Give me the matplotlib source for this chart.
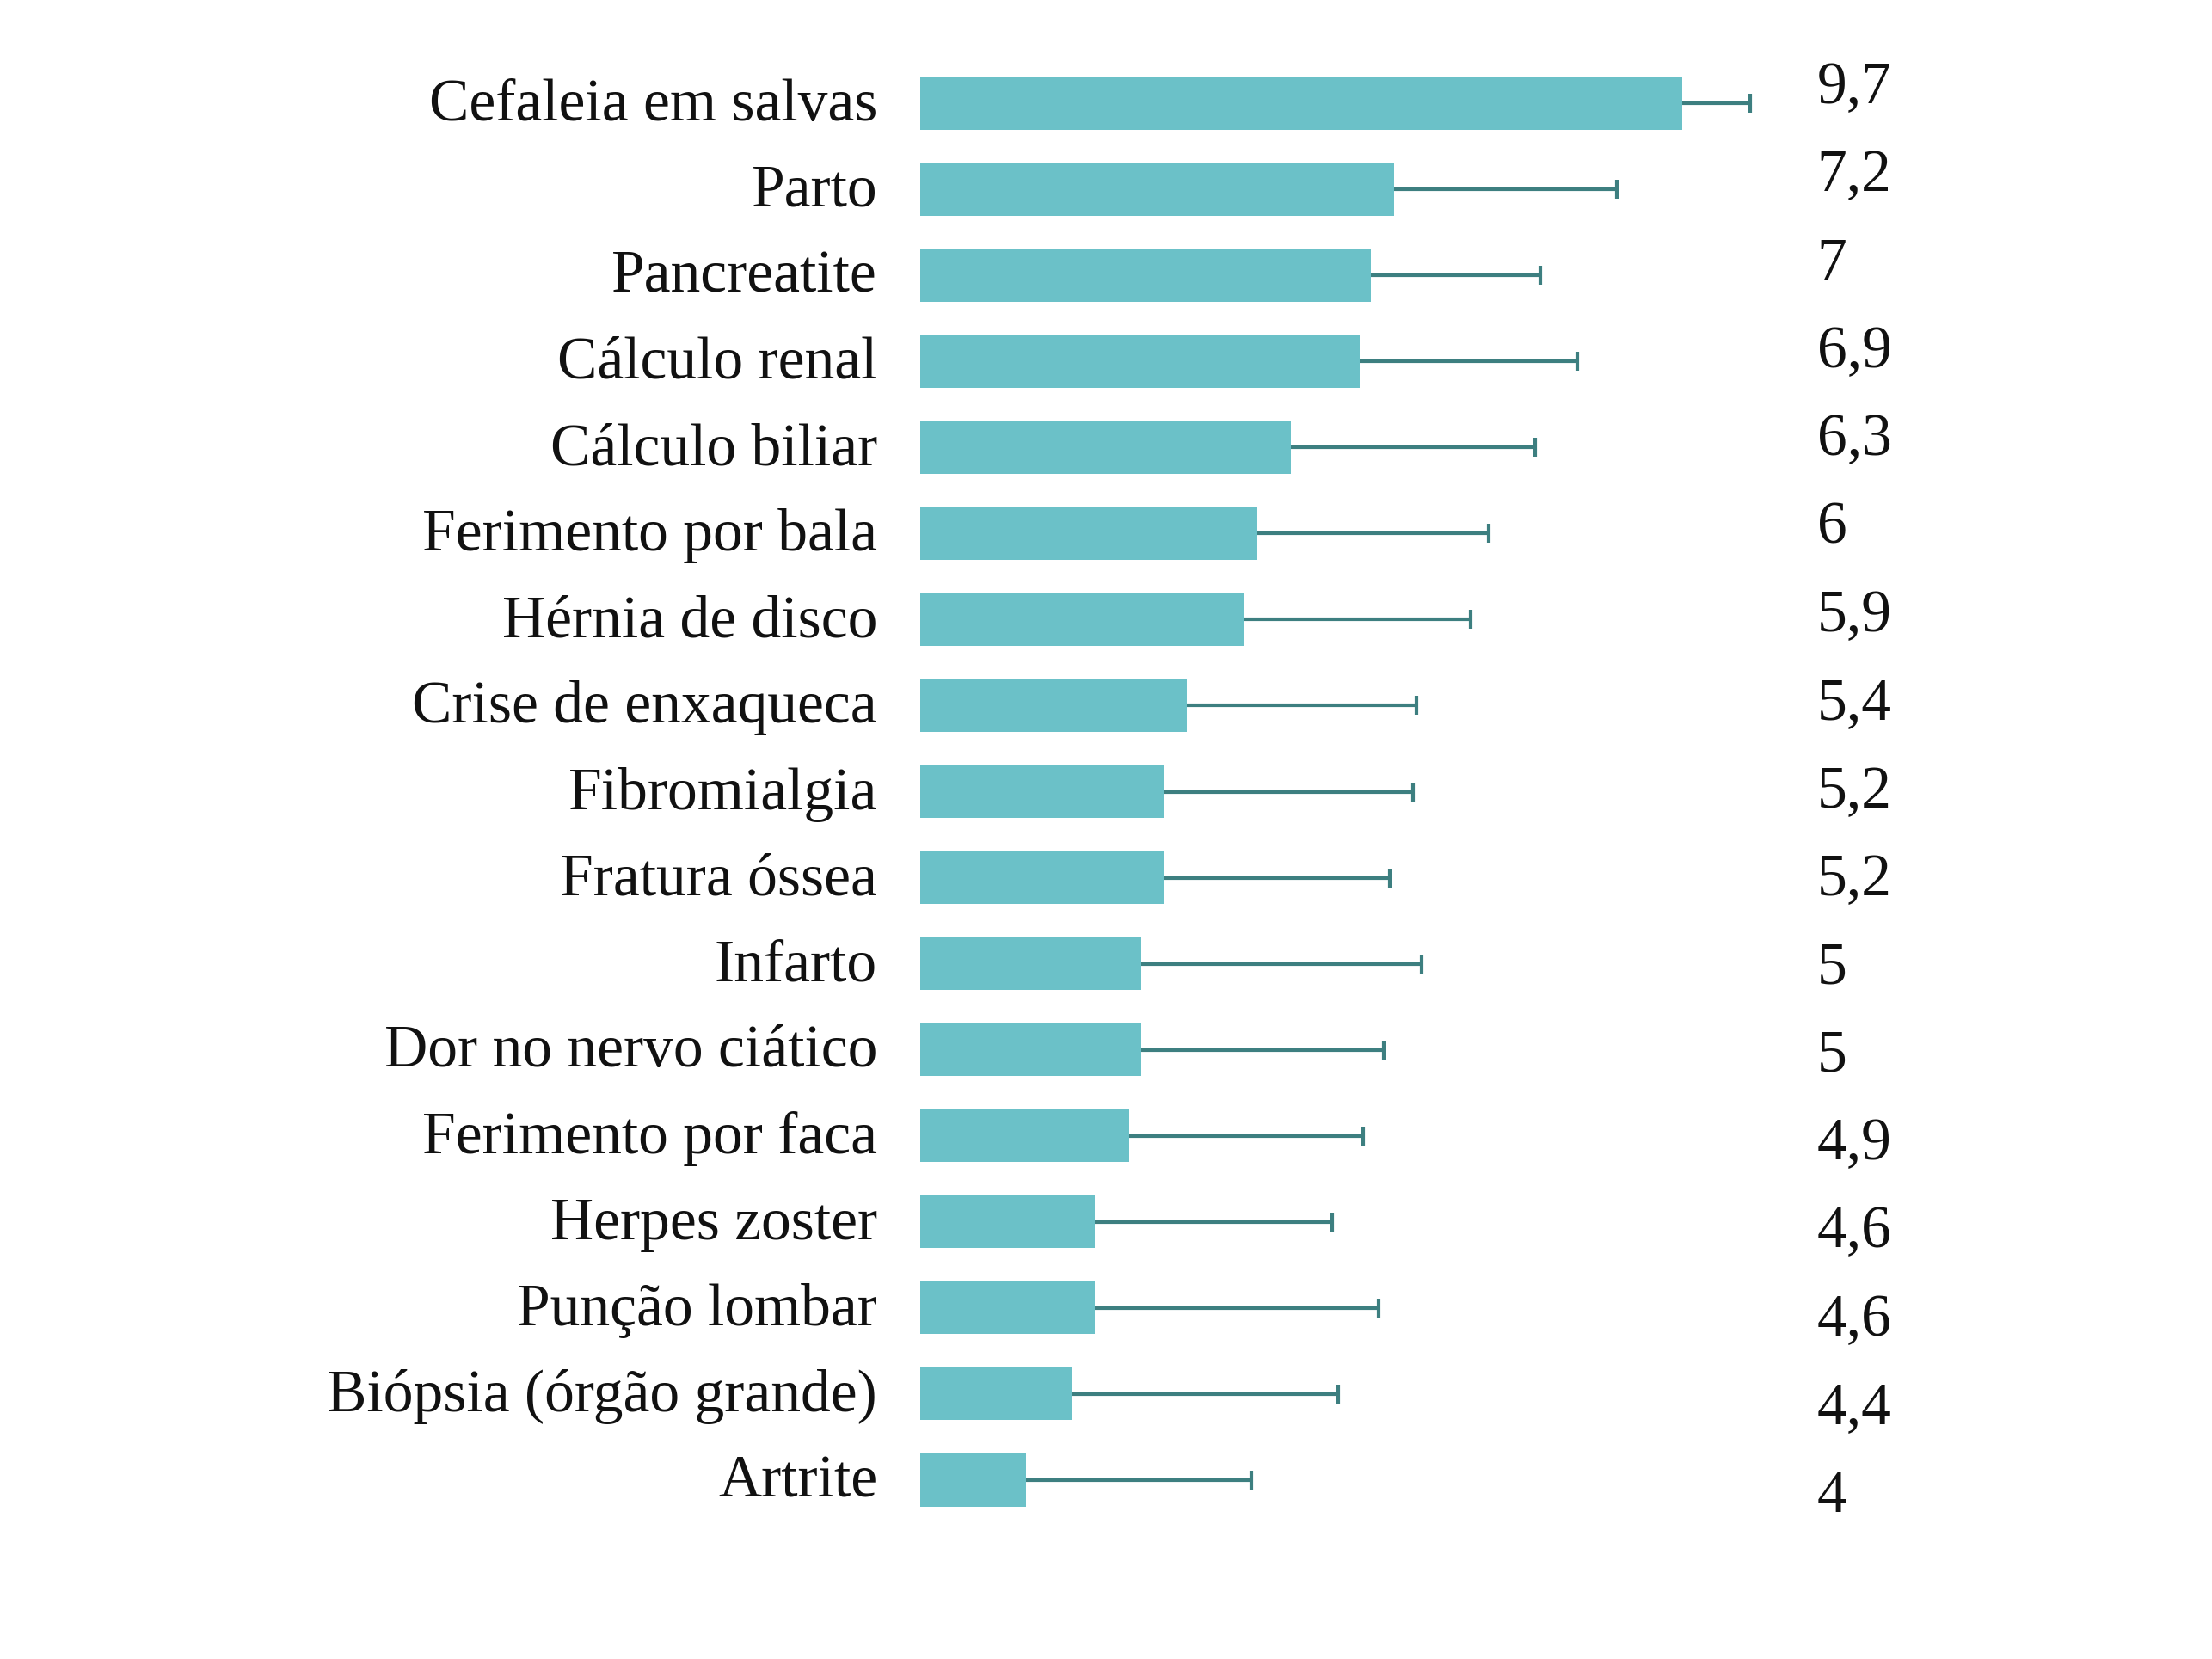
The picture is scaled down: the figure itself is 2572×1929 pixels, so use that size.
import numpy as np
import matplotlib.pyplot as plt

# data
categories = ['Cefaleia em salvas', 'Parto', 'Pancreatite', 'Cálculo renal',
              'Cálculo biliar', 'Ferimento por bala', 'Hérnia de disco',
              'Crise de enxaqueca', 'Fibromialgia', 'Fratura óssea', 'Infarto',
              'Dor no nervo ciático', 'Ferimento por faca', 'Herpes zoster',
              'Punção lombar', 'Biópsia (órgão grande)', 'Artrite']
values = [9.7, 7.2, 7.0, 6.9, 6.3, 6.0, 5.9, 5.4, 5.2, 5.2, 5.0, 5.0, 4.9, 4.6, 4.6, 4.4, 4.0]
value_labels = ['9,7', '7,2', '7', '6,9', '6,3', '6', '5,9', '5,4', '5,2', '5,2',
                '5', '5', '4,9', '4,6', '4,6', '4,4', '4']
errors = [0.59, 1.93, 1.47, 1.89, 2.12, 2.02, 1.96, 1.99, 2.16, 1.96, 2.44,
          2.11, 2.03, 2.06, 2.46, 2.31, 1.96]

BAR = '#6bc1c8'
ERR = '#3d7f80'
FONT = 'Liberation Serif'

fig = plt.figure(figsize=(25.72, 19.29), dpi=100)
ax = fig.add_axes([0.416, 0.0819, 0.3876, 0.8818])

y = np.arange(len(categories))
vals = np.array(values)
ends = vals + np.array(errors)
ax.barh(y, vals, height=0.61, color=BAR, zorder=2)
# one-sided error bars: line from bar end, cap only on the outer end
ax.hlines(y, vals, ends, color=ERR, lw=3, zorder=3)
ax.plot(ends, y, ls='none', marker='|', ms=16, mew=3, color=ERR, zorder=3)

ax.set_xlim(3.08, 10.53)
ax.set_ylim(len(categories) - 0.5, -0.5)

# category labels left of the bars
for i, name in enumerate(categories):
    ax.text(-0.05, i + 0.03, name, transform=ax.get_yaxis_transform(),
            ha='right', va='center', fontsize=50, family=FONT, color='#111111')

# value labels on the right (drift slightly relative to bars, as in the original)
for i, lab in enumerate(value_labels):
    ax.text(1.046, i * 1.023 - 0.17, lab, transform=ax.get_yaxis_transform(),
            ha='left', va='center', fontsize=50, family=FONT, color='#111111')

ax.axis('off')
fig.savefig('out.png', dpi=100, facecolor='white')
